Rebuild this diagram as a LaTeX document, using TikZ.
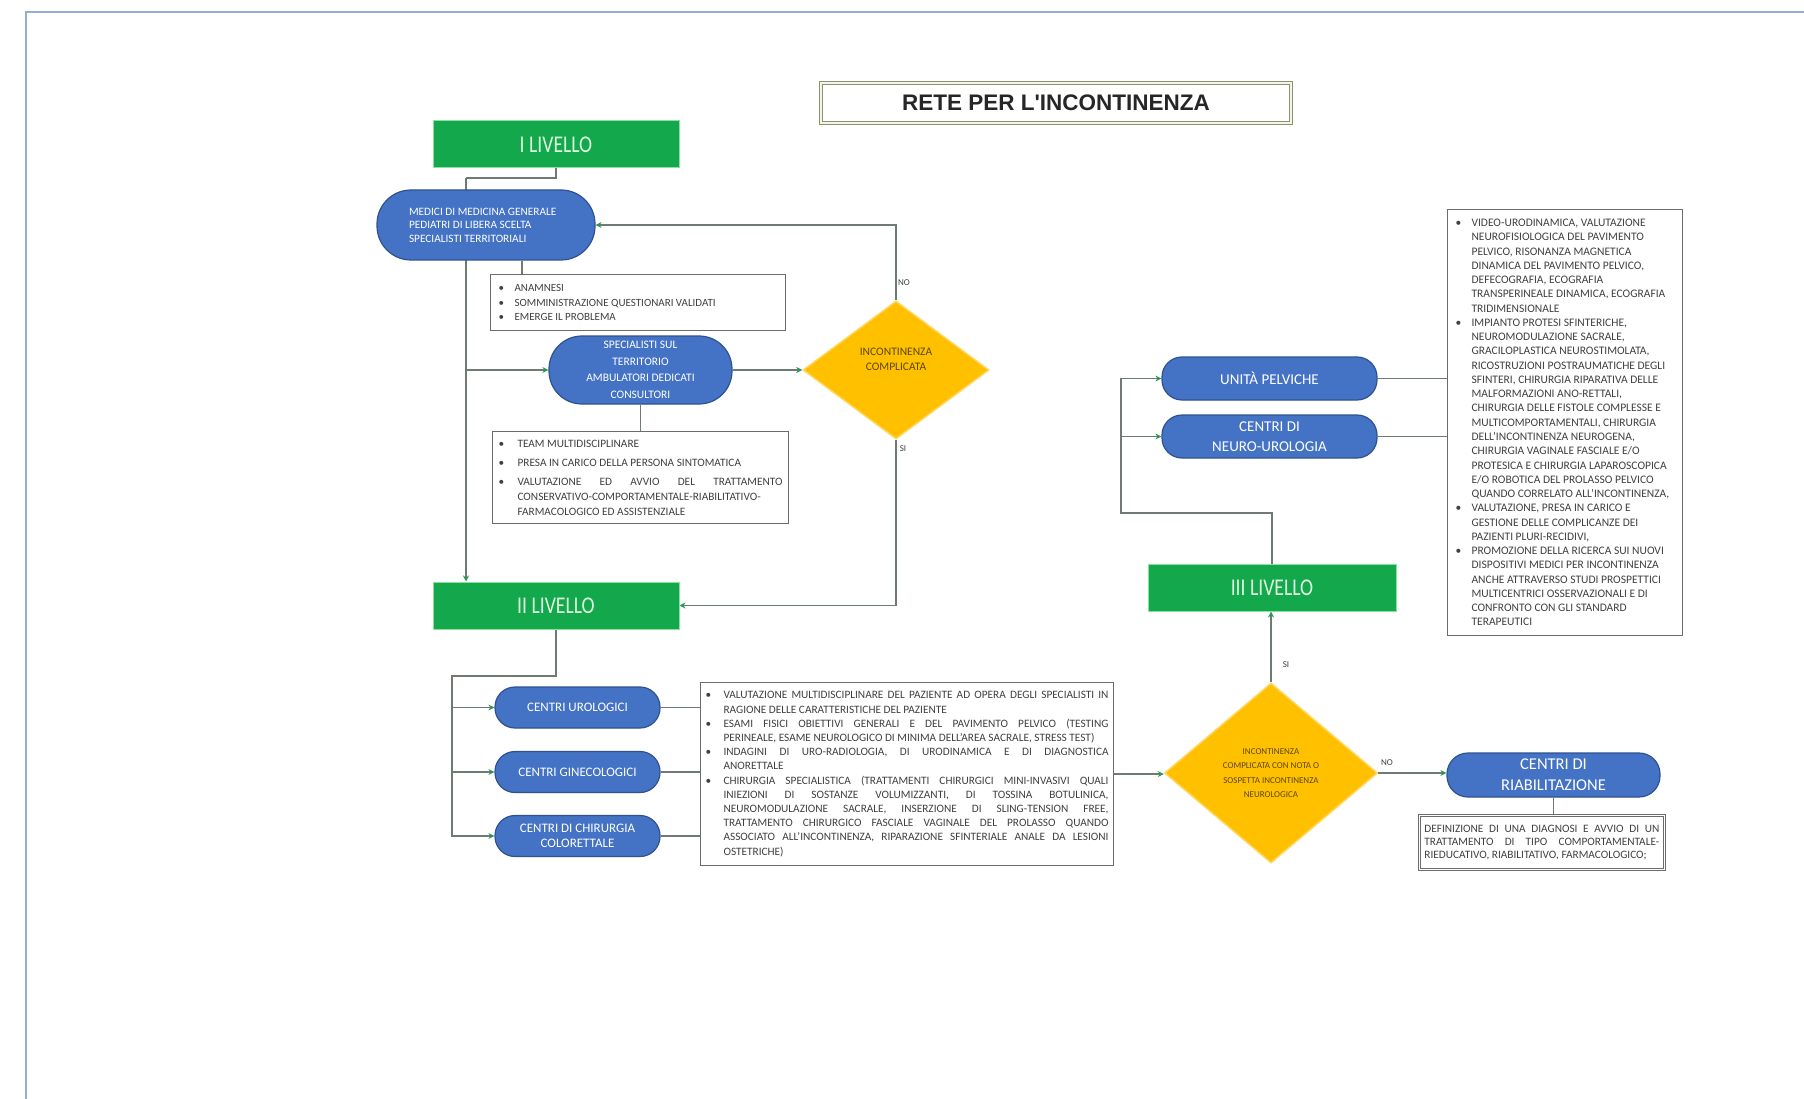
\documentclass[tikz,border=0pt]{standalone}
\usepackage{fontspec}
\setmainfont{Carlito}
\newfontfamily\titlefont{Liberation Sans}
\usepackage{graphicx}
\usetikzlibrary{shapes.geometric,arrows.meta,backgrounds,calc}
\definecolor{ovalblue}{HTML}{4472C4}
\definecolor{ovaledge}{HTML}{2F528F}
\definecolor{lvgreen}{HTML}{12A84B}
\definecolor{lvedge}{HTML}{8BE39B}
\definecolor{dyellow}{HTML}{FFC000}
\definecolor{dedge}{HTML}{FFD75E}
\definecolor{connc}{HTML}{6E7B72}
\definecolor{tipc}{HTML}{2E9457}
\definecolor{boxedge}{HTML}{6B6B6B}
\definecolor{boxtext}{HTML}{404040}
\definecolor{dtext}{HTML}{5C4800}
\definecolor{framec}{HTML}{94AECF}
\definecolor{titleedge}{HTML}{8A9270}
\definecolor{titlefill}{HTML}{F4F5EA}
\definecolor{ltext}{HTML}{DDF7E0}
\newlength\bi
\newcommand\ns{\spaceskip=0pt\xspaceskip=0pt\relax}
\newcommand\bl[1]{\makebox[\bi][l]{\textbullet}#1}
\newcommand\cl[1]{\hspace*{\bi}#1}
\newcommand\jf[2]{\makebox[#1][s]{\spaceskip=.226em plus 1fil\relax #2}}
\begin{document}
\begin{tikzpicture}[x=1pt,y=-1pt,
 level/.style={fill=lvgreen, draw=lvedge, line width=1pt, minimum width=246pt, minimum height=47pt, inner sep=0pt, text=ltext, font=\fontsize{24}{24}\selectfont},
 oval/.style={fill=ovalblue, draw=ovaledge, line width=1.2pt, text=white, inner sep=0pt},
 dec/.style={diamond, fill=dyellow, draw=dedge, line width=1.5pt, inner sep=0pt, text=dtext, align=center},
 tbox/.style={draw=boxedge, line width=1.1pt, fill=white, text=boxtext, align=left, anchor=north west},
 link/.style={draw=connc, line width=1.2pt},
 arr/.style={link, -{Stealth[length=6pt,width=6pt,color=tipc]}},
 lbl/.style={text=boxtext, font=\fontsize{9}{9}\selectfont, inner sep=1pt}
]
\useasboundingbox (0,0) rectangle (1804,1099);

% title
\node[draw=titleedge, double=titlefill, double distance=1.5pt, line width=1.2pt, fill=white,
      minimum width=470pt, minimum height=40pt, inner sep=0pt,
      font=\titlefont\bfseries\fontsize{22.5}{22.5}\selectfont, text=black!85] (title) at (1056,103) {RETE PER L'INCONTINENZA};

% levels
\node[level] (l1) at (556,144.5) {\scalebox{0.82}[1]{I LIVELLO}};
\node[level] (l2) at (556,605.5) {\scalebox{0.82}[1]{II LIVELLO}};
\node[level, minimum width=248pt] (l3) at (1272,587.5) {\scalebox{0.82}[1]{III LIVELLO}};

% ovals
\node[oval, rounded corners=34pt, minimum height=70pt, text width=154pt, inner xsep=32pt, align=left,
      font=\fontsize{11.3}{13.5}\selectfont] (med) at (486,225)
      {\ns MEDICI DI MEDICINA GENERALE\\PEDIATRI DI LIBERA SCELTA\\SPECIALISTI TERRITORIALI};
\node[oval, rounded corners=33pt, minimum width=183pt, minimum height=68pt, align=center,
      font=\fontsize{11.5}{16.5}\selectfont] (spec) at (640.5,370)
      {\ns SPECIALISTI SUL\\TERRITORIO\\AMBULATORI DEDICATI\\CONSULTORI};
\node[oval, rounded corners=20pt, minimum width=165pt, minimum height=41pt, align=center,
      font=\fontsize{13}{14.5}\selectfont] (c1) at (577.5,707.5) {\ns CENTRI UROLOGICI};
\node[oval, rounded corners=20pt, minimum width=165pt, minimum height=41pt, align=center,
      font=\fontsize{13}{14.5}\selectfont] (c2) at (577.5,772) {\ns CENTRI GINECOLOGICI};
\node[oval, rounded corners=20pt, minimum width=165pt, minimum height=41pt, align=center,
      font=\fontsize{13}{14.5}\selectfont] (c3) at (577.5,836) {\ns CENTRI DI CHIRURGIA\\COLORETTALE};
\node[oval, rounded corners=20pt, minimum width=215pt, minimum height=43pt,
      font=\fontsize{15}{15}\selectfont] (up) at (1269.5,378.5) {UNITÀ PELVICHE};
\node[oval, rounded corners=20pt, minimum width=215pt, minimum height=43pt, align=center,
      font=\fontsize{15}{20}\selectfont] (nu) at (1269.5,436.5) {\ns CENTRI DI\\NEURO-UROLOGIA};
\node[oval, rounded corners=21pt, minimum width=213pt, minimum height=44pt, align=center,
      font=\fontsize{16.5}{21}\selectfont] (rehab) at (1553.5,775) {\ns CENTRI DI\\RIABILITAZIONE};

% decisions
\node[dec, minimum width=186pt, minimum height=138pt, font=\fontsize{11.5}{15}\selectfont] (d1) at (896,370)
      {\ns INCONTINENZA\\COMPLICATA\\[6pt]};
\node[dec, minimum width=213pt, minimum height=180pt, font=\fontsize{9}{14.3}\selectfont] (d2) at (1271,773)
      {\ns INCONTINENZA\\COMPLICATA CON NOTA O\\SOSPETTA INCONTINENZA\\NEUROLOGICA};

% text boxes
\node[tbox, text width=279pt, inner xsep=8pt, minimum height=56pt,
      font=\fontsize{11}{14.5}\selectfont\setlength\bi{16pt}] (anam) at (490,274)
      {\ns\bl{ANAMNESI}\\\bl{SOMMINISTRAZIONE QUESTIONARI VALIDATI}\\\bl{EMERGE IL PROBLEMA}};

\node[tbox, text width=284pt, inner xsep=6pt, minimum height=92pt,
      font=\fontsize{11.3}{15}\selectfont\setlength\bi{19pt}] (team) at (492,431)
      {\ns\bl{TEAM MULTIDISCIPLINARE}\\[4pt]
       \bl{PRESA IN CARICO DELLA PERSONA SINTOMATICA}\\[4pt]
       \bl{\jf{265pt}{VALUTAZIONE ED AVVIO DEL TRATTAMENTO}}\\
       \cl{CONSERVATIVO-COMPORTAMENTALE-RIABILITATIVO-}\\
       \cl{FARMACOLOGICO ED ASSISTENZIALE}};

\node[tbox, text width=403pt, inner xsep=5pt, minimum height=183pt,
      font=\fontsize{11.3}{14.2}\selectfont\setlength\bi{18pt}] (big) at (700,682)
      {\ns\bl{\jf{385pt}{VALUTAZIONE MULTIDISCIPLINARE DEL PAZIENTE AD OPERA DEGLI SPECIALISTI IN}}\\
       \cl{RAGIONE DELLE CARATTERISTICHE DEL PAZIENTE}\\
       \bl{\jf{385pt}{ESAMI FISICI OBIETTIVI GENERALI E DEL PAVIMENTO PELVICO (TESTING}}\\
       \cl{PERINEALE, ESAME NEUROLOGICO DI MINIMA DELL'AREA SACRALE, STRESS TEST)}\\
       \bl{\jf{385pt}{INDAGINI DI URO-RADIOLOGIA, DI URODINAMICA E DI DIAGNOSTICA}}\\
       \cl{ANORETTALE}\\
       \bl{\jf{385pt}{CHIRURGIA SPECIALISTICA (TRATTAMENTI CHIRURGICI MINI-INVASIVI QUALI}}\\
       \cl{\jf{385pt}{INIEZIONI DI SOSTANZE VOLUMIZZANTI, DI TOSSINA BOTULINICA,}}\\
       \cl{\jf{385pt}{NEUROMODULAZIONE SACRALE, INSERZIONE DI SLING-TENSION FREE,}}\\
       \cl{\jf{385pt}{TRATTAMENTO CHIRURGICO FASCIALE VAGINALE DEL PROLASSO QUANDO}}\\
       \cl{\jf{385pt}{ASSOCIATO ALL'INCONTINENZA, RIPARAZIONE SFINTERIALE ANALE DA LESIONI}}\\
       \cl{OSTETRICHE)}};

\node[tbox, text width=219pt, inner xsep=8pt, minimum height=426pt,
      font=\fontsize{11.5}{14.26}\selectfont\setlength\bi{16pt}] (rbox) at (1447,209)
      {\ns\bl{VIDEO-URODINAMICA, VALUTAZIONE}\\
       \cl{NEUROFISIOLOGICA DEL PAVIMENTO}\\
       \cl{PELVICO, RISONANZA MAGNETICA}\\
       \cl{DINAMICA DEL PAVIMENTO PELVICO,}\\
       \cl{DEFECOGRAFIA, ECOGRAFIA}\\
       \cl{TRANSPERINEALE DINAMICA, ECOGRAFIA}\\
       \cl{TRIDIMENSIONALE}\\
       \bl{IMPIANTO PROTESI SFINTERICHE,}\\
       \cl{NEUROMODULAZIONE SACRALE,}\\
       \cl{GRACILOPLASTICA NEUROSTIMOLATA,}\\
       \cl{RICOSTRUZIONI POSTRAUMATICHE DEGLI}\\
       \cl{SFINTERI, CHIRURGIA RIPARATIVA DELLE}\\
       \cl{MALFORMAZIONI ANO-RETTALI,}\\
       \cl{CHIRURGIA DELLE FISTOLE COMPLESSE E}\\
       \cl{MULTICOMPORTAMENTALI, CHIRURGIA}\\
       \cl{DELL'INCONTINENZA NEUROGENA,}\\
       \cl{CHIRURGIA VAGINALE FASCIALE E/O}\\
       \cl{PROTESICA E CHIRURGIA LAPAROSCOPICA}\\
       \cl{E/O ROBOTICA DEL PROLASSO PELVICO}\\
       \cl{QUANDO CORRELATO ALL'INCONTINENZA,}\\
       \bl{VALUTAZIONE, PRESA IN CARICO E}\\
       \cl{GESTIONE DELLE COMPLICANZE DEI}\\
       \cl{PAZIENTI PLURI-RECIDIVI,}\\
       \bl{PROMOZIONE DELLA RICERCA SUI NUOVI}\\
       \cl{DISPOSITIVI MEDICI PER INCONTINENZA}\\
       \cl{ANCHE ATTRAVERSO STUDI PROSPETTICI}\\
       \cl{MULTICENTRICI OSSERVAZIONALI E DI}\\
       \cl{CONFRONTO CON GLI STANDARD}\\
       \cl{TERAPEUTICI}};

\node[tbox, double=white, double distance=1.5pt, line width=0.7pt, text width=235pt, inner xsep=5pt, minimum height=54pt,
      font=\fontsize{11.3}{13.2}\selectfont] (rtxt) at (1419,815)
      {\ns\jf{235pt}{DEFINIZIONE DI UNA DIAGNOSI E AVVIO DI UN}\\
       \jf{235pt}{TRATTAMENTO DI TIPO COMPORTAMENTALE-}\\
       RIEDUCATIVO, RIABILITATIVO, FARMACOLOGICO;};

% labels
\node[lbl] (no1) at (904,283) {NO};
\node[lbl] (si1) at (903,449) {SI};
\node[lbl] (si2) at (1286,665) {SI};
\node[lbl] (no2) at (1387,763) {NO};

% connectors and frame behind
\begin{scope}[on background layer]
\fill[white] (0,0) rectangle (1804,1099);
\draw[framec, line width=2pt] (26,1099) -- (26,12) -- (1804,12);

\coordinate (j1) at (466,178);
\draw[link] (l1.south) |- (j1);
\draw[arr] (j1) -- (j1 |- l2.north);
\draw[arr] (j1 |- spec.west) -- (spec.west);

\coordinate (a1) at ([xshift=32pt]anam.north west);
\draw[link] (a1) -- (a1 |- med.south);

\draw[arr] (spec.east) -- (spec.east -| d1.west);
\draw[arr] (d1.north) |- (med.east);
\draw[arr] (d1.south) |- (l2.east);
\draw[link] (spec.south) -- (spec.south |- team.north);

\coordinate (j2) at (452,676);
\draw[arr] (l2.south) |- (j2) |- (c3.west);
\draw[arr] (j2 |- c1.west) -- (c1.west);
\draw[arr] (j2 |- c2.west) -- (c2.west);
\draw[link] (c1.east) -- (c1.east -| big.west);
\draw[link] (c2.east) -- (c2.east -| big.west);
\draw[link] (c3.east) -- (c3.east -| big.west);

\draw[arr] (big.east) -- (big.east -| d2.west);
\draw[arr] (d2.north) -- (d2.north |- l3.south);

\coordinate (j3) at (1121,513);
\draw[arr] (l3.north) |- (j3) |- (up.west);
\draw[arr] (j3 |- nu.west) -- (nu.west);
\draw[link] (up.east) -- (up.east -| rbox.west);
\draw[link] (nu.east) -- (nu.east -| rbox.west);

\draw[arr] (d2.east) -- (d2.east -| rehab.west);
\draw[link] (rehab.south) -- (rehab.south |- rtxt.north);
\end{scope}
\end{tikzpicture}
\end{document}
